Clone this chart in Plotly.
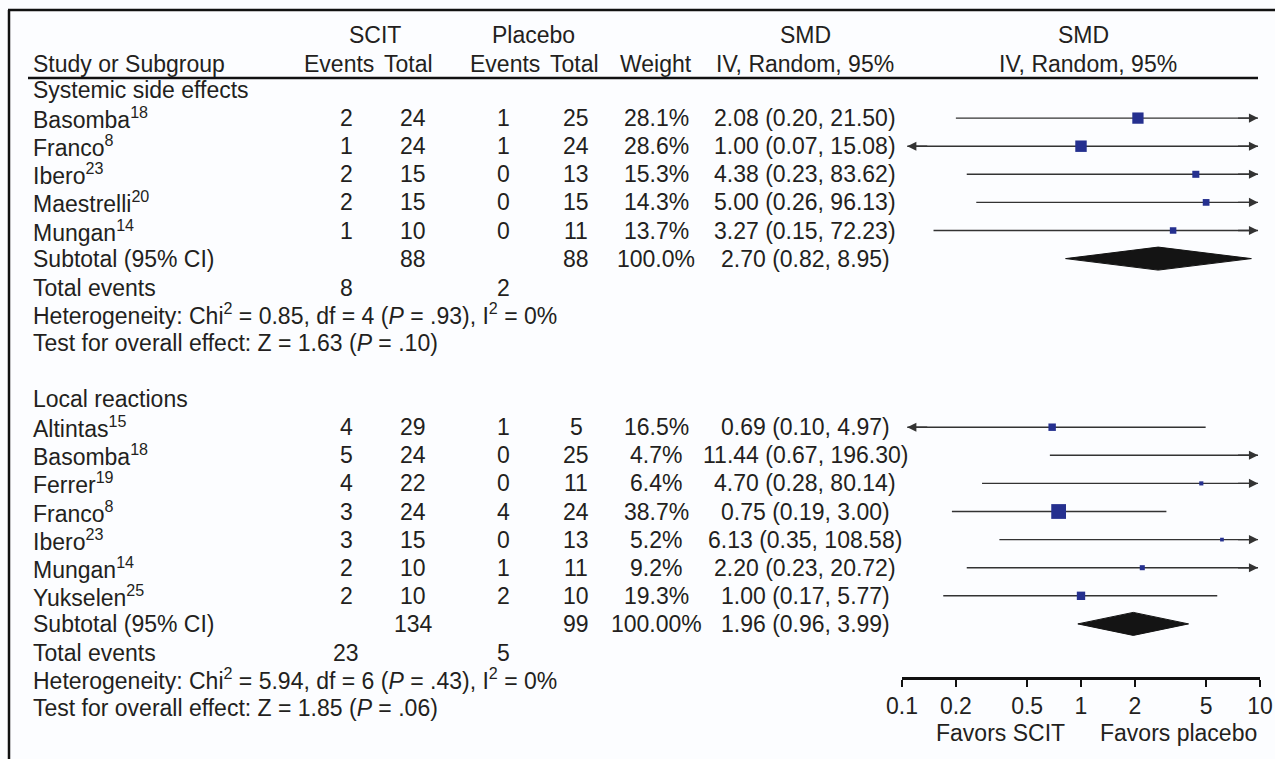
import math
import plotly.graph_objects as go

# ---- Data -------------------------------------------------------------
# Systemic side effects
sys_study = ["Basomba<sup>18</sup>", "Franco<sup>8</sup>", "Ibero<sup>23</sup>",
             "Maestrelli<sup>20</sup>", "Mungan<sup>14</sup>"]
sys_scit_events = [2, 1, 2, 2, 1]
sys_scit_total = [24, 24, 15, 15, 10]
sys_plac_events = [1, 1, 0, 0, 0]
sys_plac_total = [25, 24, 13, 15, 11]
sys_weight = [28.1, 28.6, 15.3, 14.3, 13.7]
sys_smd = [2.08, 1.00, 4.38, 5.00, 3.27]
sys_lo = [0.20, 0.07, 0.23, 0.26, 0.15]
sys_hi = [21.50, 15.08, 83.62, 96.13, 72.23]
sys_sub_totals = [88, 88]
sys_sub_weight = "100.0%"
sys_sub_smd = [2.70, 0.82, 8.95]
sys_events_total = [8, 2]
sys_het = dict(chi2="0.85", df=4, p=".93", i2="0%")
sys_overall = dict(z="1.63", p=".10")

# Local reactions
loc_study = ["Altintas<sup>15</sup>", "Basomba<sup>18</sup>", "Ferrer<sup>19</sup>",
             "Franco<sup>8</sup>", "Ibero<sup>23</sup>", "Mungan<sup>14</sup>",
             "Yukselen<sup>25</sup>"]
loc_scit_events = [4, 5, 4, 3, 3, 2, 2]
loc_scit_total = [29, 24, 22, 24, 15, 10, 10]
loc_plac_events = [1, 0, 0, 4, 0, 1, 2]
loc_plac_total = [5, 25, 11, 24, 13, 11, 10]
loc_weight = [16.5, 4.7, 6.4, 38.7, 5.2, 9.2, 19.3]
loc_smd = [0.69, 11.44, 4.70, 0.75, 6.13, 2.20, 1.00]
loc_lo = [0.10, 0.67, 0.28, 0.19, 0.35, 0.23, 0.17]
loc_hi = [4.97, 196.30, 80.14, 3.00, 108.58, 20.72, 5.77]
loc_sub_totals = [134, 99]
loc_sub_weight = "100.00%"
loc_sub_smd = [1.96, 0.96, 3.99]
loc_events_total = [23, 5]
loc_het = dict(chi2="5.94", df=6, p=".43", i2="0%")
loc_overall = dict(z="1.85", p=".06")

axis_ticks = [0.1, 0.2, 0.5, 1, 2, 5, 10]
axis_tick_labels = ["0.1", "0.2", "0.5", "1", "2", "5", "10"]

# ---- Layout geometry (pixels) -----------------------------------------
W, H = 1275, 759
ROW0, PITCH = 90.0, 28.1          # first body row centre and row pitch
HEAD_LINE_Y = 78
AXIS_Y = 677
PLOT_X0, PLOT_X1 = 902, 1260      # x positions of 0.1 and 10
FONT = "Liberation Sans, Arial, Helvetica, sans-serif"
FS = 23
TXT = "#231f20"
SQ_COLOR = "#25308f"
LINE_COLOR = "#333333"

COL_LABEL = 31
COL_SE, COL_ST, COL_PE, COL_PT = 346, 413, 503, 576
COL_W, COL_SMD = 656, 805


def px(xp):
    return xp / W


def py(yp):
    return 1 - yp / H


def row_px(r):
    return ROW0 + r * PITCH


fig = go.Figure()
annotations = []
shapes = []


def text(x, ypix, s, anchor="center", size=FS):
    annotations.append(dict(
        x=px(x), y=py(ypix), xref="paper", yref="paper", text=s,
        showarrow=False, xanchor=anchor, yanchor="middle",
        font=dict(family=FONT, size=size, color=TXT)))


# ---- Header -----------------------------------------------------------
text(375, 35, "SCIT")
text(533, 35, "Placebo")
text(805, 35, "SMD")
text(1083, 35, "SMD")
text(COL_LABEL, 64, "Study or Subgroup", "left")
text(339, 64, "Events")
text(408, 64, "Total")
text(505, 64, "Events")
text(574, 64, "Total")
text(COL_W, 64, "Weight")
text(COL_SMD, 64, "IV, Random, 95%")
text(1088, 64, "IV, Random, 95%")


def ci_text(e, lo, hi):
    return f"{e:.2f} ({lo:.2f}, {hi:.2f})"


def draw_group(start_row, title, studies, se, st, pe, pt, wt, est, lo, hi,
               sub_tot, sub_w, sub_smd, ev_tot, het, overall):
    text(COL_LABEL, row_px(start_row), title, "left")
    rows = []
    for i, name in enumerate(studies):
        r = start_row + 1 + i
        rows.append(r)
        y = row_px(r)
        text(COL_LABEL, y, name, "left")
        text(COL_SE, y, str(se[i]))
        text(COL_ST, y, str(st[i]))
        text(COL_PE, y, str(pe[i]))
        text(COL_PT, y, str(pt[i]))
        text(COL_W, y, f"{wt[i]:.1f}%")
        text(COL_SMD, y, ci_text(est[i], lo[i], hi[i]))

        # confidence interval, clipped to the axis range with arrows
        lo_c = max(lo[i], 0.107)
        hi_c = min(hi[i], 9.75)
        fig.add_trace(go.Scatter(
            x=[lo_c, hi_c], y=[r, r], mode="lines",
            line=dict(color=LINE_COLOR, width=1.4),
            hoverinfo="skip", showlegend=False))
        if hi[i] > 10:
            annotations.append(dict(
                x=math.log10(hi_c), y=r, ax=math.log10(hi_c) - 0.12, ay=r,
                xref="x", yref="y", axref="x", ayref="y", text="",
                showarrow=True, arrowhead=2, arrowsize=1.3,
                arrowwidth=1.4, arrowcolor=LINE_COLOR))
        if lo[i] <= 0.1:
            annotations.append(dict(
                x=math.log10(lo_c), y=r, ax=math.log10(lo_c) + 0.12, ay=r,
                xref="x", yref="y", axref="x", ayref="y", text="",
                showarrow=True, arrowhead=2, arrowsize=1.3,
                arrowwidth=1.4, arrowcolor=LINE_COLOR))

    # study estimates, square size by weight
    fig.add_trace(go.Scatter(
        x=est, y=rows, mode="markers",
        marker=dict(symbol="square", color=SQ_COLOR, opacity=1,
                    size=[2 + 0.33 * w for w in wt],
                    line=dict(color=SQ_COLOR, width=0)),
        hoverinfo="skip", showlegend=False))

    # subtotal
    r = start_row + 1 + len(studies)
    y = row_px(r)
    text(COL_LABEL, y, "Subtotal (95% CI)", "left")
    text(COL_ST, y, str(sub_tot[0]))
    text(COL_PT, y, str(sub_tot[1]))
    text(COL_W, y, sub_w)
    text(COL_SMD, y, ci_text(*sub_smd))
    e, l, h = sub_smd
    dh = 0.41
    fig.add_trace(go.Scatter(
        x=[l, e, h, e, l], y=[r, r - dh, r, r + dh, r],
        mode="lines", fill="toself", fillcolor="#141414",
        line=dict(color="#141414", width=1),
        hoverinfo="skip", showlegend=False))

    y = row_px(r + 1) + 1
    text(COL_LABEL, y, "Total events", "left")
    text(COL_SE, y, str(ev_tot[0]))
    text(COL_PE, y, str(ev_tot[1]))
    y = row_px(r + 2) - 1
    text(COL_LABEL, y,
         f"Heterogeneity: Chi<sup>2</sup> = {het['chi2']}, df = {het['df']} "
         f"(<i>P</i> = {het['p']}), I<sup>2</sup> = {het['i2']}", "left")
    y = row_px(r + 3)
    text(COL_LABEL, y,
         f"Test for overall effect: Z = {overall['z']} (<i>P</i> = {overall['p']})",
         "left")


draw_group(0, "Systemic side effects", sys_study, sys_scit_events,
           sys_scit_total, sys_plac_events, sys_plac_total, sys_weight,
           sys_smd, sys_lo, sys_hi, sys_sub_totals, sys_sub_weight,
           sys_sub_smd, sys_events_total, sys_het, sys_overall)
draw_group(11, "Local reactions", loc_study, loc_scit_events,
           loc_scit_total, loc_plac_events, loc_plac_total, loc_weight,
           loc_smd, loc_lo, loc_hi, loc_sub_totals, loc_sub_weight,
           loc_sub_smd, loc_events_total, loc_het, loc_overall)

# axis captions
text(1000, 733, "Favors SCIT")
text(1178, 733, "Favors placebo")

# ---- Rules and frame --------------------------------------------------
shapes.append(dict(type="line", xref="paper", yref="paper",
                   x0=px(28), x1=px(1258), y0=py(HEAD_LINE_Y), y1=py(HEAD_LINE_Y),
                   line=dict(color="#111", width=2.5)))
shapes.append(dict(type="line", xref="paper", yref="paper",
                   x0=px(8), x1=1, y0=py(10), y1=py(10),
                   line=dict(color="#111", width=2.5)))
shapes.append(dict(type="line", xref="paper", yref="paper",
                   x0=px(9), x1=px(9), y0=0, y1=py(10),
                   line=dict(color="#111", width=2.5)))
# line of no effect
shapes.append(dict(type="line", xref="x", yref="paper",
                   x0=0, x1=0, y0=py(AXIS_Y), y1=py(HEAD_LINE_Y),
                   line=dict(color="#111", width=1.5)))

fig.update_layout(
    width=W, height=H, autosize=False,
    margin=dict(l=0, r=0, t=0, b=0, pad=0, autoexpand=False),
    paper_bgcolor="#fcfdff", plot_bgcolor="rgba(0,0,0,0)",
    showlegend=False,
    annotations=annotations, shapes=shapes,
    xaxis=dict(
        type="log", range=[-1, 1], domain=[px(PLOT_X0), px(PLOT_X1)],
        tickvals=axis_ticks, ticktext=axis_tick_labels,
        showgrid=False, zeroline=False, showline=True, automargin=False,
        linecolor="#111", linewidth=2.5,
        ticks="outside", ticklen=7, tickwidth=2, tickcolor="#111",
        tickfont=dict(family=FONT, size=FS, color=TXT),
        fixedrange=True),
    yaxis=dict(
        domain=[py(AXIS_Y), py(HEAD_LINE_Y)],
        range=[(AXIS_Y - ROW0) / PITCH, (HEAD_LINE_Y - ROW0) / PITCH],
        visible=False, automargin=False, fixedrange=True),
    font=dict(family=FONT, size=FS, color=TXT),
)

fig.write_html("out.html")
